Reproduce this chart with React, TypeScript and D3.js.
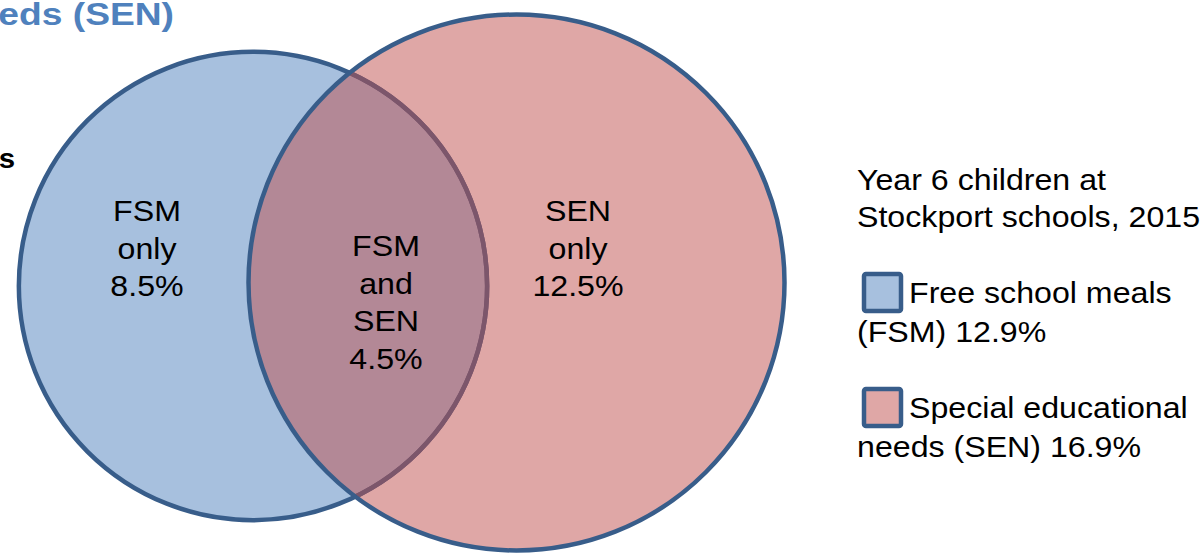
import React, { useEffect, useRef } from 'react';
import * as d3 from 'd3';

// set sizes (% of Year 6 children)
const setNames = ['FSM', 'SEN'];
const setTotals = [12.9, 16.9];
const setFills = ['#4F81BD', '#C0504D'];

// region labels
const regionLines = [
  ['FSM', 'only', '8.5%'],
  ['FSM', 'and', 'SEN', '4.5%'],
  ['SEN', 'only', '12.5%'],
];

const legendTitle = ['Year 6 children at', 'Stockport schools, 2015'];
const legendItems = [
  ['Free school meals', '(FSM) 12.9%'],
  ['Special educational', 'needs (SEN) 16.9%'],
];

const chartTitle = 'Free school meals (FSM) and special educational needs (SEN)';
const sideLabel = 'pupils';

const W = 1200;
const H = 555;
const font = '"Liberation Sans", Arial, sans-serif';
const stroke = '#385D8A';
const fontSize = 29.5;
const stretch = 1.09; // reference text runs a bit wider than Liberation Sans

export default function App() {
  const ref = useRef<SVGSVGElement | null>(null);

  useEffect(() => {
    const svg = d3.select(ref.current);
    svg.selectAll('*').remove();

    // text helper: wide-ish glyphs via a horizontal scale
    const addText = (parent, x, y, t, anchor = 'start', sx = stretch) =>
      parent
        .append('text')
        .attr('transform', `translate(${x},${y}) scale(${sx},1)`)
        .attr('text-anchor', anchor)
        .text(t);

    const rScale = d3.scaleSqrt().domain([0, d3.max(setTotals) as number]).range([0, 268]);
    // layout of the two circle centres
    const centres = [
      { x: 253, y: 286 },
      { x: 516.5, y: 282.5 },
    ];

    const defs = svg.append('defs');
    defs
      .append('clipPath')
      .attr('id', 'clipSen')
      .append('circle')
      .attr('cx', centres[1].x)
      .attr('cy', centres[1].y)
      .attr('r', rScale(setTotals[1]) - 2.25);

    const circles = svg.append('g');
    circles
      .selectAll('circle')
      .data(setNames)
      .enter()
      .append('circle')
      .attr('cx', (d, i) => centres[i].x)
      .attr('cy', (d, i) => centres[i].y)
      .attr('r', (d, i) => rScale(setTotals[i]))
      .attr('fill', (d, i) => setFills[i])
      .attr('fill-opacity', 0.5)
      .attr('stroke', stroke)
      .attr('stroke-width', 4.5);

    // blue outline seen through the red fill
    circles
      .append('circle')
      .attr('cx', centres[0].x)
      .attr('cy', centres[0].y)
      .attr('r', rScale(setTotals[0]))
      .attr('fill', 'none')
      .attr('stroke', '#7C566B')
      .attr('stroke-width', 4.5)
      .attr('clip-path', 'url(#clipSen)');

    const regionPos = [
      { x: 147, y: 221 },
      { x: 386, y: 256 },
      { x: 578, y: 221 },
    ];
    const lineH = 37.5;
    const labels = svg.append('g').attr('font-family', font).attr('font-size', fontSize).attr('fill', '#000');
    regionLines.forEach((lines, i) => {
      lines.forEach((t, j) => {
        addText(labels, regionPos[i].x, regionPos[i].y + j * lineH, t, 'middle');
      });
    });

    // title, cut off at the top left
    const tg = svg
      .append('g')
      .attr('font-family', font)
      .attr('font-weight', 'bold')
      .attr('font-size', 31)
      .attr('fill', '#4F81BD');
    addText(tg, 174, 25, chartTitle, 'end', 1.2);
    const sg = svg
      .append('g')
      .attr('font-family', font)
      .attr('font-weight', 'bold')
      .attr('font-size', 28)
      .attr('fill', '#000');
    addText(sg, 15, 168, sideLabel, 'end', 1.05);

    // legend
    const lg = svg.append('g').attr('font-family', font).attr('font-size', fontSize).attr('fill', '#000');
    legendTitle.forEach((t, i) => {
      addText(lg, 857, 190 + i * 37, t);
    });
    legendItems.forEach((item, i) => {
      const y0 = 272 + i * 115;
      lg.append('rect')
        .attr('x', 864)
        .attr('y', y0 + 2)
        .attr('width', 37)
        .attr('height', 37)
        .attr('fill', setFills[i])
        .attr('fill-opacity', 0.5)
        .attr('stroke', stroke)
        .attr('stroke-width', 4.5)
        .attr('rx', 2);
      addText(lg, 909, y0 + 31, item[0]);
      addText(lg, 857, y0 + 70, item[1]);
    });
  }, []);

  return (
    <svg
      ref={ref}
      width={W}
      height={H}
      style={{ position: 'absolute', left: 0, top: 0, background: '#fff' }}
    />
  );
}
